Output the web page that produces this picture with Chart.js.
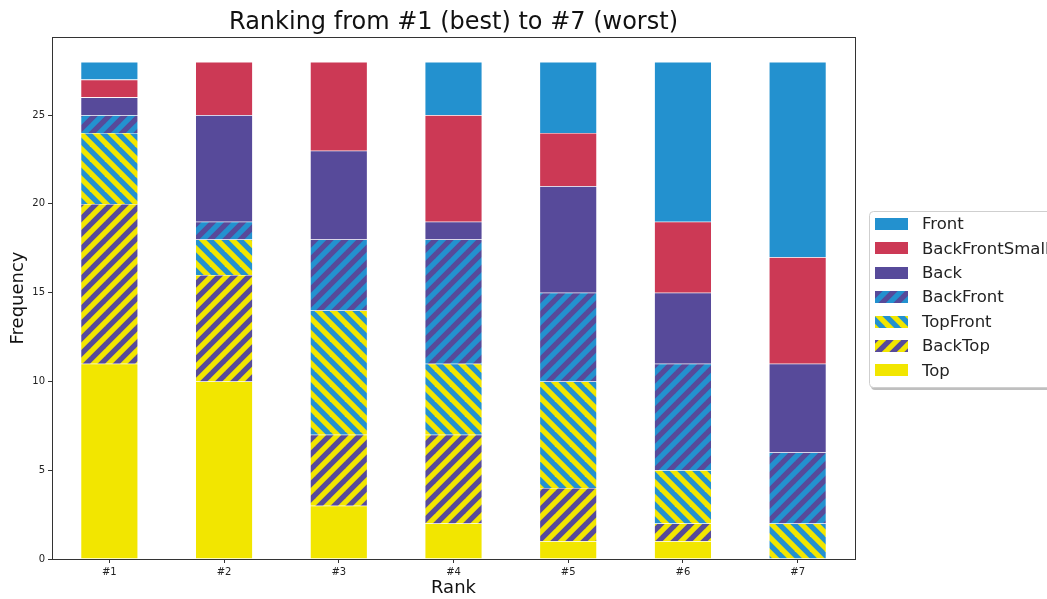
<!DOCTYPE html>
<html>
<head>
<meta charset="utf-8">
<script src="https://cdn.jsdelivr.net/npm/chart.js@4"></script>
<style>
  html, body { margin: 0; padding: 0; background: #fff; }
  canvas { display: block; }
</style>
</head>
<body>
<canvas id="ranking" width="1047" height="599"></canvas>
<script>
const ranks = ['#1', '#2', '#3', '#4', '#5', '#6', '#7'];

// counts per rank, bottom of the stack first
const top_ = [11, 10, 3, 2, 1, 1, 0];
const backTop = [9, 6, 4, 5, 3, 1, 0];
const topFront = [4, 2, 7, 4, 6, 3, 2];
const backFront = [1, 1, 4, 7, 5, 6, 4];
const back = [1, 6, 5, 1, 6, 4, 5];
const backFrontSmall = [1, 3, 5, 6, 3, 4, 6];
const front = [1, 0, 0, 3, 4, 9, 11];

const yTicks = [0, 5, 10, 15, 20, 25];

const BLUE = '#2391cf';
const RED = '#cc3955';
const PURPLE = '#574a9a';
const YELLOW = '#f2e600';

const ctx = document.getElementById('ranking');
const c2d = ctx.getContext('2d');

function stripes(base, stripe, dir) {
  const P = 15;
  const t = document.createElement('canvas');
  t.width = P; t.height = P;
  const g = t.getContext('2d');
  g.fillStyle = base;
  g.fillRect(0, 0, P, P);
  g.strokeStyle = stripe;
  g.lineWidth = P / (2 * Math.SQRT2);
  for (let k = -1; k <= 1; k++) {
    g.beginPath();
    if (dir == '/') {
      g.moveTo(k * P - P, 2 * P);
      g.lineTo(k * P + 2 * P, -P);
    } else {
      g.moveTo(k * P - P, -P);
      g.lineTo(k * P + 2 * P, 2 * P);
    }
    g.stroke();
  }
  return c2d.createPattern(t, 'repeat');
}

const series = [
  { label: 'Top', data: top_, fill: YELLOW },
  { label: 'BackTop', data: backTop, fill: stripes(YELLOW, PURPLE, '/') },
  { label: 'TopFront', data: topFront, fill: stripes(YELLOW, BLUE, '\\') },
  { label: 'BackFront', data: backFront, fill: stripes(BLUE, PURPLE, '/') },
  { label: 'Back', data: back, fill: PURPLE },
  { label: 'BackFrontSmall', data: backFrontSmall, fill: RED },
  { label: 'Front', data: front, fill: BLUE }
];

const FONT = 'DejaVu Sans';

const extras = {
  id: 'extras',
  afterDraw(chart) {
    const g = chart.ctx;
    const a = chart.chartArea;
    g.save();
    // axes frame
    g.strokeStyle = '#333';
    g.lineWidth = 1;
    g.strokeRect(Math.round(a.left) + 0.5, Math.round(a.top) + 0.5,
      Math.round(a.right - a.left), Math.round(a.bottom - a.top));

    // title
    g.fillStyle = '#111';
    g.font = '24px "' + FONT + '"';
    g.textAlign = 'center';
    g.textBaseline = 'middle';
    g.fillText('Ranking from #1 (best) to #7 (worst)', (a.left + a.right) / 2, 23);

    // legend
    const lx = 869, ly = 211, lw = 200, lh = 176;
    g.fillStyle = 'rgba(0,0,0,0.25)';
    g.beginPath();
    g.roundRect(lx + 2, ly + 3, lw, lh, 4);
    g.fill();
    g.fillStyle = '#fff';
    g.strokeStyle = '#cfcfcf';
    g.beginPath();
    g.roundRect(lx + 0.5, ly + 0.5, lw, lh, 4);
    g.fill();
    g.stroke();
    g.font = '16.5px "' + FONT + '"';
    g.textAlign = 'left';
    const rev = series.slice().reverse();
    rev.forEach((s, i) => {
      const y = 224 + i * 24.4;
      g.fillStyle = s.fill;
      g.fillRect(875, Math.round(y - 6), 33, 12);
      g.fillStyle = '#222';
      g.fillText(s.label, 922, y + 1);
    });
    g.restore();
  }
};

new Chart(ctx, {
  type: 'bar',
  data: {
    labels: ranks,
    datasets: series.map(s => ({
      label: s.label,
      data: s.data,
      backgroundColor: s.fill,
      borderColor: 'rgba(255,255,255,0.35)',
      borderWidth: 0.6,
      barPercentage: 0.5,
      categoryPercentage: 1
    }))
  },
  options: {
    responsive: false,
    animation: false,
    devicePixelRatio: 1,
    layout: { padding: { left: 0, top: 37, right: 192, bottom: 0 } },
    plugins: {
      legend: { display: false },
      title: { display: false },
      tooltip: { enabled: false }
    },
    scales: {
      x: {
        stacked: true,
        grid: { display: true, offset: false, drawOnChartArea: false, tickLength: 4, color: '#333' },
        border: { display: false },
        ticks: { color: '#222', font: { family: FONT, size: 10 }, padding: 3 },
        title: { display: true, text: 'Rank', color: '#111', font: { family: FONT, size: 18 }, padding: { top: 2, bottom: 0 } },
        afterFit(scale) { scale.height = 40; }
      },
      y: {
        stacked: true,
        min: 0,
        max: 29.4,
        afterBuildTicks(scale) { scale.ticks = yTicks.map(v => ({ value: v })); },
        grid: { display: true, drawOnChartArea: false, tickLength: 4, color: '#333' },
        border: { display: false },
        ticks: { color: '#222', font: { family: FONT, size: 10 }, padding: 3 },
        title: { display: true, text: 'Frequency', color: '#111', font: { family: FONT, size: 18 }, padding: { top: 8, bottom: 0 } },
        afterFit(scale) { scale.width = 52; }
      }
    }
  },
  plugins: [extras]
});
</script>
</body>
</html>
